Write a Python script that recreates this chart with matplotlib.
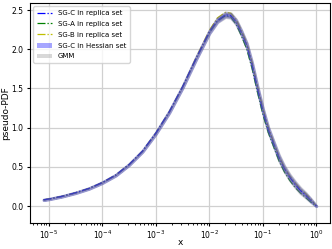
import matplotlib
matplotlib.use("Agg")
import matplotlib.pyplot as plt
import numpy as np

# log10(x) grid
logx = [-5.1, -5.0, -4.75, -4.5, -4.25, -4.0, -3.75, -3.5, -3.25, -3.0,
        -2.75, -2.5, -2.25, -2.0, -1.85, -1.7, -1.6, -1.5, -1.4, -1.3,
        -1.2, -1.1, -1.0, -0.9, -0.8, -0.7, -0.6, -0.5, -0.4, -0.3,
        -0.2, -0.1, -0.05, 0.0]

sgc = [0.08, 0.09, 0.125, 0.17, 0.225, 0.30, 0.395, 0.53, 0.70, 0.93,
       1.20, 1.52, 1.88, 2.22, 2.37, 2.44, 2.43, 2.35, 2.21, 2.05,
       1.80, 1.50, 1.22, 0.98, 0.80, 0.62, 0.48, 0.37, 0.28, 0.20,
       0.14, 0.07, 0.035, 0.0]

sga = [0.08, 0.09, 0.125, 0.17, 0.225, 0.30, 0.395, 0.53, 0.70, 0.93,
       1.20, 1.52, 1.88, 2.21, 2.36, 2.43, 2.41, 2.32, 2.17, 2.00,
       1.75, 1.45, 1.17, 0.94, 0.76, 0.58, 0.44, 0.33, 0.24, 0.17,
       0.11, 0.05, 0.025, 0.0]

sgb = [0.08, 0.09, 0.125, 0.17, 0.225, 0.30, 0.395, 0.53, 0.70, 0.93,
       1.20, 1.52, 1.89, 2.24, 2.40, 2.47, 2.46, 2.38, 2.24, 2.08,
       1.83, 1.53, 1.25, 1.01, 0.82, 0.64, 0.50, 0.39, 0.30, 0.22,
       0.16, 0.09, 0.045, 0.0]

# half widths of the two bands
hess_err = [0.003, 0.003, 0.003, 0.004, 0.004, 0.005, 0.005, 0.006, 0.007, 0.008,
            0.01, 0.01, 0.012, 0.015, 0.018, 0.02, 0.02, 0.02, 0.02, 0.02,
            0.02, 0.02, 0.02, 0.02, 0.02, 0.02, 0.02, 0.02, 0.02, 0.02,
            0.018, 0.014, 0.008, 0.0]

gmm_err = [0.004, 0.004, 0.004, 0.005, 0.005, 0.006, 0.006, 0.007, 0.008, 0.01,
           0.012, 0.014, 0.016, 0.02, 0.025, 0.03, 0.03, 0.03, 0.03, 0.03,
           0.03, 0.03, 0.03, 0.03, 0.03, 0.035, 0.035, 0.035, 0.035, 0.035,
           0.03, 0.02, 0.01, 0.0]

x = 10 ** np.array(logx)
sgc = np.array(sgc)
hess_err = np.array(hess_err)
gmm_err = np.array(gmm_err)

fig = plt.figure(figsize=(3.32, 2.49), dpi=100)
ax = fig.add_axes([0.090, 0.106, 0.904, 0.882])

# SG-C line kept above the other two so the overlap reads bluish-grey
ax.plot(x, sgc, '-.', color='b', lw=0.9, zorder=2.2, label='SG-C in replica set')
ax.plot(x, sga, '-.', color='g', lw=0.9, label='SG-A in replica set')
ax.plot(x, sgb, '-.', color='y', lw=0.9, label='SG-B in replica set')
ax.fill_between(x, sgc - hess_err, sgc + hess_err, color='b', alpha=0.35,
                lw=2.0, zorder=2.5, label='SG-C in Hessian set')
ax.fill_between(x, sgc - gmm_err, sgc + gmm_err, color='gray', alpha=0.38,
                lw=2.0, zorder=2.6, label='GMM')

ax.set_xscale('log')
ax.set_ylim(-0.21, 2.59)
ax.set_xlabel('x', fontsize=6.5)
ax.xaxis.set_label_coords(0.5, -0.07)
ax.set_ylabel('pseudo-PDF', fontsize=6.5, labelpad=1)
ax.tick_params(labelsize=5.5, length=2.5, pad=2)
ax.tick_params(which='minor', length=1.5)
ax.grid(True, color='#d0d0d0', lw=0.9)
ax.set_axisbelow(True)
leg = ax.legend(loc='upper left', fontsize=5, framealpha=0.8, borderpad=0.5,
                labelspacing=0.7, handlelength=2.2)
leg.set_zorder(5)
# legend patches: plain light fills without the thick edges
for h, a in zip(leg.legend_handles[3:], [0.35, 0.3]):
    h.set_alpha(a)
    h.set_linewidth(0)

fig.savefig('out.png', dpi=100)
